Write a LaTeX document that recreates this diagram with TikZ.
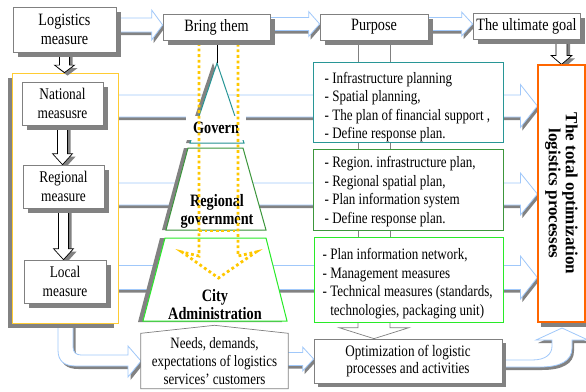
\documentclass[tikz,border=0pt]{standalone}
\usepackage{fontspec}
\setmainfont{Liberation Serif}[FakeStretch=0.82]
\newfontfamily\widefont{Liberation Serif}
\usetikzlibrary{calc,shadows}

\definecolor{boxgray}{RGB}{128,128,128}
\definecolor{shadegray}{RGB}{130,130,130}
\definecolor{arrowblue}{RGB}{160,200,250}
\definecolor{tealline}{RGB}{40,150,150}
\definecolor{darkgreenline}{RGB}{60,150,60}
\definecolor{brightgreenline}{RGB}{40,235,40}
\definecolor{goalorange}{RGB}{255,102,0}
\definecolor{panelyellow}{RGB}{255,204,51}
\definecolor{dotyellow}{RGB}{255,200,0}

\pgfdeclarelayer{back}
\pgfdeclarelayer{panel}
\pgfdeclarelayer{mid}
\pgfsetlayers{back,panel,mid,main}

% right-pointing hollow block arrow with a drop shadow
% #1 tail point (x used), #2 tip point, #3 half body, #4 half head, #5 head length
\newcommand\rblk[5]{%
  \fill[shadegray] let \p1=(#1), \p2=(#2) in
    (\x1+2pt,\y2+#3-3pt) -- (\x2-#5+2pt,\y2+#3-3pt) -- (\x2-#5+2pt,\y2+#4-3pt) -- (\x2+2pt,\y2-3pt)
    -- (\x2-#5+2pt,\y2-#4-3pt) -- (\x2-#5+2pt,\y2-#3-3pt) -- (\x1+2pt,\y2-#3-3pt) -- cycle;
  \filldraw[fill=white, draw=arrowblue, line width=0.8pt] let \p1=(#1), \p2=(#2) in
    (\x1,\y2+#3) -- (\x2-#5,\y2+#3) -- (\x2-#5,\y2+#4) -- (\x2,\y2)
    -- (\x2-#5,\y2-#4) -- (\x2-#5,\y2-#3) -- (\x1,\y2-#3) -- cycle;}

% downward hollow block arrow, black outline, drop shadow
% #1 tail point (y used), #2 tip point, #3 half body, #4 half head, #5 head length
\newcommand\dblk[5]{%
  \fill[shadegray] let \p1=(#1), \p2=(#2) in
    (\x2-#3+3pt,\y1) -- (\x2-#3+3pt,\y2+#5-3pt) -- (\x2-#4+3pt,\y2+#5-3pt) -- (\x2+3pt,\y2-3pt)
    -- (\x2+#4+3pt,\y2+#5-3pt) -- (\x2+#3+3pt,\y2+#5-3pt) -- (\x2+#3+3pt,\y1) -- cycle;
  \filldraw[fill=white, draw=black, line width=0.7pt] let \p1=(#1), \p2=(#2) in
    (\x2-#3,\y1) -- (\x2-#3,\y2+#5) -- (\x2-#4,\y2+#5) -- (\x2,\y2)
    -- (\x2+#4,\y2+#5) -- (\x2+#3,\y2+#5) -- (\x2+#3,\y1) -- cycle;}

\begin{document}
\begin{tikzpicture}[x=1pt,y=-1pt,
  box/.style={draw=boxgray, fill=white, line width=0.7pt, inner sep=0pt, align=center},
  shad/.style={drop shadow={shadow xshift=#1, shadow yshift=-#1, fill=shadegray, opacity=1}},
  shad/.default=5pt,
  toptext/.style={font=\fontsize{17.3}{19.5}\selectfont},
  lefttext/.style={font=\fontsize{16.3}{19}\selectfont},
  listtext/.style={font=\fontsize{15.9}{18.6}\selectfont, align=left, inner sep=0pt, anchor=west},
  listbox/.style={fill=white, line width=1pt, inner sep=0pt, minimum width=190pt},
  pyrtext/.style={font=\bfseries\fontsize{17.4}{18}\selectfont, align=center, inner sep=0pt},
  connector/.style={draw=boxgray, line width=0.7pt},
  dotted arrow/.style={draw=dotyellow, line width=2.8pt, dash pattern=on 2.8pt off 2.8pt}
]
\useasboundingbox (0,0) rectangle (586,391);

% ---------- boxes ----------
\node[box, shad, toptext, minimum width=103pt, minimum height=45pt] (logm) at (64.5,29.5) {Logistics\\measure};
\node[box, shad, toptext, minimum width=107pt, minimum height=26pt] (bring) at (216.5,27) {Bring them};
\node[box, shad, toptext, minimum width=108pt, minimum height=26pt] (purp) at (374,27) {Purpose};
\node[box, shad, toptext, minimum width=107pt, minimum height=26pt] (goal) at (526.5,26) {The ultimate goal};

\begin{pgfonlayer}{panel}
  \node[draw=panelyellow, fill=white, line width=0.8pt, minimum width=106pt, minimum height=250pt, inner sep=0pt,
        drop shadow={shadow xshift=-4pt, shadow yshift=-5pt, fill=shadegray, opacity=1}] (yel) at (65,198) {};
\end{pgfonlayer}

\node[box, shad, lefttext, minimum width=81pt, minimum height=43pt] (nat) at (62.5,103.5) {National\\measusre};
\node[box, shad, lefttext, minimum width=81pt, minimum height=43pt] (reg) at (63.5,186.5) {Regional\\measure};
\node[box, shad, lefttext, minimum width=82pt, minimum height=43pt] (loc) at (65,281.5) {Local\\measure};

\node[listbox, draw=tealline, minimum height=80pt] (p1) at (408,102) {};
\node[listtext] (p1t) at ([xshift=12pt,yshift=-5pt]p1.west) {- Infrastructure planning\\- Spatial planning,\\- The plan of financial support ,\\- Define response plan.};
\node[listbox, draw=darkgreenline, minimum height=81pt] (p2) at (408,189.5) {};
\node[listtext] (p2t) at ([xshift=12pt,yshift=-2pt]p2.west) {- Region.\ infrastructure plan,\\- Regional spatial plan,\\- Plan information system\\- Define response plan.};
\node[listbox, draw=brightgreenline, minimum width=189pt, minimum height=85pt] (p3) at (408.5,279.5) {};
\node[listtext] (p3t) at ([xshift=9pt,yshift=-4pt]p3.west) {- Plan information network,\\- Management measures\\- Technical measures (standards,\\\phantom{- }technologies, packaging unit)};

\node[box, shad=4pt, font=\fontsize{16}{17.5}\selectfont, minimum width=188pt, minimum height=44pt] (opt) at (408,361) {Optimization of logistic\\processes and activities};

\node[align=center, inner sep=0pt, font=\fontsize{15.8}{18}\selectfont, minimum width=147pt, minimum height=55pt] (needs) at (214.5,361) {Needs, demands,\\expectations of logistics\\services' customers};
\begin{pgfonlayer}{panel}
  \filldraw[fill=white, draw=boxgray, line width=0.7pt] (needs.south west) -- (needs.north west)
    -- ([yshift=8pt]needs.north) -- (needs.north east) -- (needs.south east) -- cycle;
\end{pgfonlayer}

\node[draw=goalorange, fill=white, line width=1.2pt, minimum width=47pt, minimum height=257pt, inner sep=0pt,
      drop shadow={shadow xshift=3pt, shadow yshift=-5pt, fill=shadegray, opacity=1}] (og) at (561.5,193.5) {};
\node[rotate=-90, align=center, inner sep=0pt, font=\widefont\bfseries\fontsize{17}{17}\selectfont] (ogt) at (og.center) {The total optimization\\logistics processes};

% ---------- wide arrows behind everything ----------
\begin{pgfonlayer}{back}
  \rblk{[xshift=-4pt]yel.east}{og.west |- 0,106}{11pt}{21.5pt}{17pt}
  \rblk{[xshift=-4pt]yel.east}{og.west |- 0,194}{11pt}{21pt}{17pt}
  \rblk{[xshift=-4pt]yel.east}{og.west |- 0,277.5}{12pt}{21.5pt}{17pt}
  \rblk{[xshift=-2pt]logm.east}{bring.west |- 0,25}{7pt}{15pt}{11pt}
  \rblk{[xshift=-2pt]bring.east}{purp.west |- 0,24}{6.5pt}{12.5pt}{11pt}
  \rblk{[xshift=-2pt]purp.east}{goal.west |- 0,24}{6.5pt}{12pt}{11pt}
  \rblk{[xshift=-2pt]needs.east}{opt.west |- 0,359}{6.5pt}{12pt}{11pt}

  % bent arrow from the measures panel to the customers box
  \fill[shadegray, shift={(2.5,3)}] (58,322) -- (58,350) .. controls (58,361) and (64,366) .. (76,366)
    -- (128,366) -- (128,377) -- (141,361) -- (128,346) -- (128,355) -- (81,355)
    .. controls (76,355) and (73,352) .. (73,347) -- (73,322) -- cycle;
  \filldraw[fill=white, draw=arrowblue, line width=0.8pt] (58,322) -- (58,350) .. controls (58,361) and (64,366) .. (76,366)
    -- (128,366) -- (128,377) -- (141,361) -- (128,346) -- (128,355) -- (81,355)
    .. controls (76,355) and (73,352) .. (73,347) -- (73,322) -- cycle;

  % bent arrow from the optimization box up to the goal
  \fill[shadegray, shift={(2,3)}] (499,360) -- (532,360) .. controls (546,360) and (552,354) .. (552,346)
    -- (552,340) -- (536,340) -- (562,328) -- (588,340) -- (572,340) -- (572,348)
    .. controls (572,361) and (560,367) .. (540,367) -- (499,367) -- cycle;
  \filldraw[fill=white, draw=arrowblue, line width=0.8pt] (499,360) -- (532,360) .. controls (546,360) and (552,354) .. (552,346)
    -- (552,340) -- (536,340) -- (562,328) -- (588,340) -- (572,340) -- (572,348)
    .. controls (572,361) and (560,367) .. (540,367) -- (499,367) -- cycle;

  % links down the purpose column
  \foreach \dx in {-16,16} {
    \draw[connector] ($(purp.south)+(\dx,0)$) -- ($(purp.south |- p1.north)+(\dx,0)$);
    \draw[connector] ($(purp.south |- p1.south)+(\dx,0)$) -- ($(purp.south |- p2.north)+(\dx,0)$);
    \draw[connector] ($(purp.south |- p2.south)+(\dx,0)$) -- ($(purp.south |- p3.north)+(\dx,0)$);
  }
  \filldraw[fill=white, draw=boxgray, line width=0.7pt] let \p1=(purp.south |- p3.south), \p2=(purp.south |- opt.north) in
    (\x1-16pt,\y1) -- (\x1-16pt,\y2+11pt) -- (\x1-35pt,\y2+11pt) -- (\x2,\y2)
    -- (\x1+35pt,\y2+11pt) -- (\x1+16pt,\y2+11pt) -- (\x1+16pt,\y1);
\end{pgfonlayer}

% ---------- government pyramid ----------
\begin{pgfonlayer}{panel}
  \fill[shadegray] (213,63) -- (186,143) -- (240,143) -- cycle;
  \filldraw[fill=white, draw=tealline, line width=1pt] (217,63) coordinate (apex) -- (244,143) -- (190,143) -- cycle;
  \node[pyrtext, fill=white, minimum width=60pt, minimum height=24pt] (govt) at (216,128) {Govern};

  \fill[shadegray] (184,148) -- (239,148) -- (262,230) -- (162,230) -- cycle;
  \filldraw[fill=white, draw=darkgreenline, line width=1pt] (188,148) -- (243,148) -- (266,230) -- (166,230) -- cycle;
  \node[pyrtext] (regg) at (217,211.5) {Regional\\government};

  \fill[shadegray] (160,238) -- (261,238) -- (282,322) -- (138,322) -- cycle;
  \filldraw[fill=white, draw=brightgreenline, line width=1pt] (165,238) -- (266,238) -- (287,321) -- (143,321) -- cycle;
  \node[pyrtext] (city) at (215,305) {City\\Administration};
\end{pgfonlayer}

% ---------- arrows over the panel ----------
\begin{pgfonlayer}{mid}
  \draw[dotted arrow] (199,43) -- (199,256) -- (182,252) -- (218.5,278) -- (256,252) -- (238,256) -- (238,43);
  \draw[dotted arrow] (199,231) -- (238,231);
  \draw[black, line width=0.6pt] (bring.south -| apex) -- (apex);

  \dblk{logm.south}{logm.south |- yel.north}{5pt}{10pt}{7.5pt}
  \dblk{nat.south}{nat.south |- reg.north}{5pt}{10pt}{11pt}
  \dblk{reg.south}{reg.south |- loc.north}{5pt}{10pt}{11pt}
  \dblk{goal.south}{og.north}{5.5pt}{10.5pt}{9pt}
\end{pgfonlayer}
\end{tikzpicture}
\end{document}
